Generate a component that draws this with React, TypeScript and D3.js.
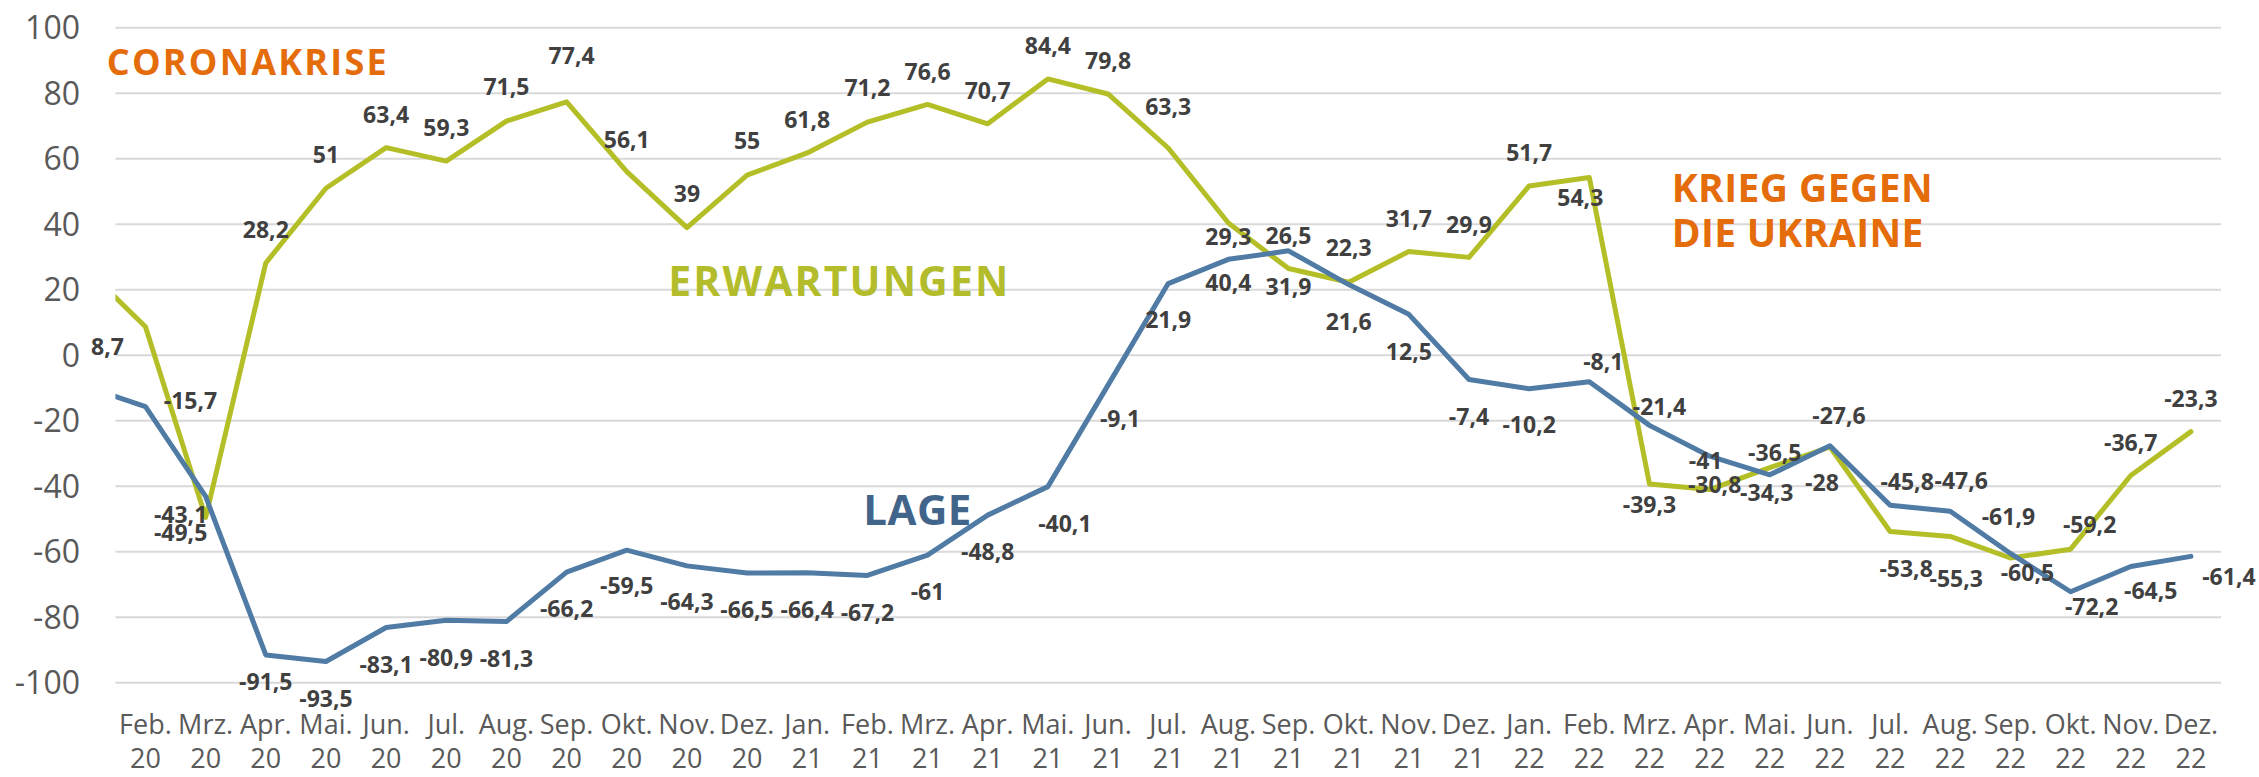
import React from "react";
import * as d3 from "d3";

// ---------- DATA ----------
const months = ["Jan.", "Feb.", "Mrz.", "Apr.", "Mai.", "Jun.", "Jul.", "Aug.", "Sep.", "Okt.", "Nov.", "Dez.",
  "Jan.", "Feb.", "Mrz.", "Apr.", "Mai.", "Jun.", "Jul.", "Aug.", "Sep.", "Okt.", "Nov.", "Dez.",
  "Jan.", "Feb.", "Mrz.", "Apr.", "Mai.", "Jun.", "Jul.", "Aug.", "Sep.", "Okt.", "Nov.", "Dez."];
const years = ["20", "20", "20", "20", "20", "20", "20", "20", "20", "20", "20", "20",
  "21", "21", "21", "21", "21", "21", "21", "21", "21", "21", "21", "21",
  "22", "22", "22", "22", "22", "22", "22", "22", "22", "22", "22", "22"];
// index 0 (Jan. 20) lies outside the visible plot area (clipped lead-in)
const erwartungen = [26.7, 8.7, -49.5, 28.2, 51, 63.4, 59.3, 71.5, 77.4, 56.1, 39, 55,
  61.8, 71.2, 76.6, 70.7, 84.4, 79.8, 63.3, 40.4, 26.5, 22.3, 31.7, 29.9,
  51.7, 54.3, -39.3, -41, -34.3, -28, -53.8, -55.3, -61.9, -59.2, -36.7, -23.3];
const lage = [-9.5, -15.7, -43.1, -91.5, -93.5, -83.1, -80.9, -81.3, -66.2, -59.5, -64.3, -66.5,
  -66.4, -67.2, -61, -48.8, -40.1, -9.1, 21.9, 29.3, 31.9, 21.6, 12.5, -7.4,
  -10.2, -8.1, -21.4, -30.8, -36.5, -27.6, -45.8, -47.6, -60.5, -72.2, -64.5, -61.4];
const yTicks = [100, 80, 60, 40, 20, 0, -20, -40, -60, -80, -100];

// ---------- LABEL PLACEMENT (offset from point to label centre, px) ----------
const erwOffsets: [number, number][] = [[0, 0], [-38, 20], [-25, 15], [0, -33], [0, -33], [0, -33], [0, -33], [0, -34], [5, -46], [0, -32], [0, -34], [0, -34],
  [0, -33], [0, -34], [0, -33], [0, -33], [0, -33], [0, -33], [0, -41], [0, 60], [0, -33], [0, -34], [0, -33], [0, -33],
  [0, -33], [-9, 20], [0, 21], [-4, -29], [-3, 25], [-8, 36], [16, 37], [6, 42], [-2, -41], [19, -24], [0, -33], [0, -33]];
const lageOffsets: [number, number][] = [[0, 0], [45, -6], [-25, 18], [0, 27], [0, 37], [0, 37], [0, 38], [0, 37], [0, 37], [0, 36], [0, 36], [0, 37],
  [0, 37], [0, 37], [0, 37], [0, 37], [17, 37], [12, 34], [0, 36], [0, -23], [0, 36], [0, 37], [0, 37], [0, 37],
  [0, 36], [14, -20], [10, -19], [5, 29], [5, -22], [9, -30], [17, -24], [11, -30], [17, 19], [21, 15], [20, 24], [38, 20]];

const W = 2259, H = 777;
const plotLeft = 115.4, plotRight = 2221, plotTop = 0, plotBottom = 700;
const FONT = "'Open Sans', 'Liberation Sans', sans-serif";
const GREEN = "#B4BE26";
const BLUE = "#4F7BA5";
const ORANGE = "#E46C0A";
const LABEL = "#404040";
const AXIS = "#595959";

const fmt = (v: number) => String(v).replace(".", ",");

export default function App() {
  const x = d3.scaleLinear().domain([0.5, months.length - 0.5]).range([plotLeft, plotRight]);
  const y = d3.scaleLinear().domain([-100, 100]).range([682.8, 27.8]);
  const line = d3.line<number>().x((_, i) => x(i)).y((d) => y(d));
  const idx = d3.range(1, months.length);
  const lblFs = 23;

  return (
    <svg width={W} height={H} style={{ position: "absolute", left: 0, top: 0, background: "#fff" }} fontFamily={FONT}>
      <defs>
        <clipPath id="plot">
          <rect x={plotLeft} y={plotTop} width={plotRight - plotLeft} height={plotBottom - plotTop} />
        </clipPath>
      </defs>
      <rect x={0} y={0} width={W} height={H} fill="#fff" />
      {/* gridlines */}
      {yTicks.map((t) => (
        <line key={t} x1={plotLeft} x2={plotRight} y1={y(t)} y2={y(t)} stroke="#D9D9D9" strokeWidth={2} />
      ))}
      {/* y tick labels */}
      {yTicks.map((t) => (
        <text key={"t" + t} x={80} y={y(t) + 11.4} textAnchor="end" fontSize={32} fill={AXIS}>{t}</text>
      ))}
      {/* x labels */}
      {idx.map((i) => (
        <g key={"x" + i}>
          <text x={x(i)} y={734} textAnchor="middle" fontSize={27} fill={AXIS}>{months[i]}</text>
          <text x={x(i)} y={768} textAnchor="middle" fontSize={27} fill={AXIS}>{years[i]}</text>
        </g>
      ))}
      {/* lines */}
      <g clipPath="url(#plot)">
        <path d={line(erwartungen) || ""} fill="none" stroke={GREEN} strokeWidth={5} strokeLinejoin="round" strokeLinecap="round" />
        <path d={line(lage) || ""} fill="none" stroke={BLUE} strokeWidth={5} strokeLinejoin="round" strokeLinecap="round" />
      </g>
      {/* data labels */}
      {idx.map((i) => (
        <text key={"e" + i} x={x(i) + erwOffsets[i][0]} y={y(erwartungen[i]) + erwOffsets[i][1] + lblFs * 0.357}
          textAnchor="middle" fontSize={lblFs} fontWeight={700} fill={LABEL}>{fmt(erwartungen[i])}</text>
      ))}
      {idx.map((i) => (
        <text key={"l" + i} x={x(i) + lageOffsets[i][0]} y={y(lage[i]) + lageOffsets[i][1] + lblFs * 0.357}
          textAnchor="middle" fontSize={lblFs} fontWeight={700} fill={LABEL}>{fmt(lage[i])}</text>
      ))}
      {/* annotations */}
      <text x={106.7} y={75} fontSize={36} fontWeight={700} fill={ORANGE} textLength={280} lengthAdjust="spacing">CORONAKRISE</text>
      <text x={668.3} y={296} fontSize={41} fontWeight={700} fill="#B3BD2B" textLength={340} lengthAdjust="spacing">ERWARTUNGEN</text>
      <text x={863.3} y={525} fontSize={42} fontWeight={700} fill="#41658A" textLength={108} lengthAdjust="spacing">LAGE</text>
      <text x={1671.7} y={201.7} fontSize={39} fontWeight={700} fill={ORANGE} textLength={261} lengthAdjust="spacing">KRIEG GEGEN</text>
      <text x={1671.7} y={246.7} fontSize={39} fontWeight={700} fill={ORANGE} textLength={251.6} lengthAdjust="spacing">DIE UKRAINE</text>
    </svg>
  );
}
